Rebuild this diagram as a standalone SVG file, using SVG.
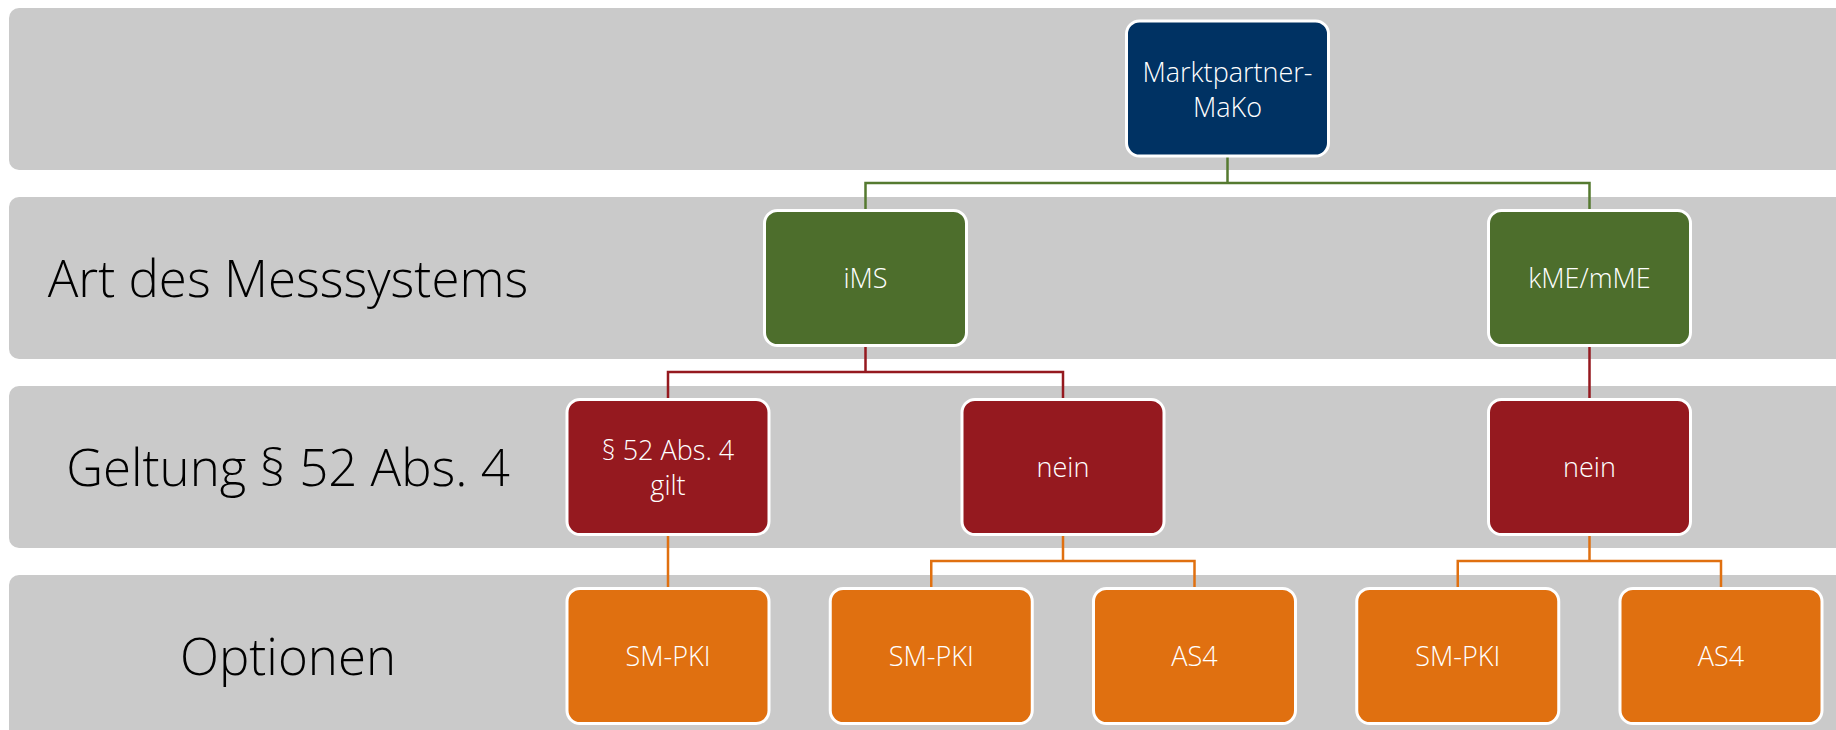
<svg xmlns="http://www.w3.org/2000/svg" width="1836" height="730" viewBox="0 0 1836 730">
<style>
.band{fill:#CACACA}
.lbl{font-family:"Open Sans","Liberation Sans",sans-serif;font-weight:300;font-size:51px;fill:#000;text-anchor:middle}
.node rect{stroke:#FFFFFF;stroke-width:3}
.node text{font-family:"Open Sans","Liberation Sans",sans-serif;font-weight:300;font-size:27px;fill:#FFFFFF;text-anchor:middle}
.navy{fill:#003263}
.green{fill:#4D6E2C}
.red{fill:#95191F}
.orange{fill:#E07010}
.c{fill:none;stroke-width:2.5}
.cg{stroke:#557A30}
.cr{stroke:#95191F}
.co{stroke:#E07010}
</style>
<g id="bands">
<rect class="band" x="9" y="8" width="1860" height="162" rx="10"/>
<rect class="band" x="9" y="197" width="1860" height="162" rx="10"/>
<rect class="band" x="9" y="386" width="1860" height="162" rx="10"/>
<rect class="band" x="9" y="575" width="1860" height="170" rx="10"/>
<text class="lbl" x="288" y="297">Art des Messsystems</text>
<text class="lbl" x="288" y="486">Geltung § 52 Abs. 4</text>
<text class="lbl" x="288" y="675">Optionen</text>
</g>
<g id="connectors">
<path class="c cg" d="M1227.5 156V183M865.5 210V183H1589.5V210"/>
<path class="c cr" d="M865.5 346V372M668 399V372H1063V399M1589.5 346V399"/>
<path class="c co" d="M668 535V588M1063 535V561M931.25 588V561H1194.5V588M1589.5 535V561M1457.75 588V561H1721V588"/>
</g>
<g id="n-markt" class="node"><rect class="navy" x="1126.5" y="21" width="202" height="135" rx="13"/><text x="1227.5" y="82">Marktpartner-</text><text x="1227.5" y="117">MaKo</text></g>
<g id="n-ims" class="node"><rect class="green" x="764.5" y="210.5" width="202" height="135" rx="13"/><text x="865.5" y="288">iMS</text></g>
<g id="n-kme" class="node"><rect class="green" x="1488.5" y="210.5" width="202" height="135" rx="13"/><text x="1589.5" y="288">kME/mME</text></g>
<g id="n-p52" class="node"><rect class="red" x="567" y="399.5" width="202" height="135" rx="13"/><text x="668" y="460">§ 52 Abs. 4</text><text x="668" y="495">gilt</text></g>
<g id="n-nein1" class="node"><rect class="red" x="962" y="399.5" width="202" height="135" rx="13"/><text x="1063" y="477">nein</text></g>
<g id="n-nein2" class="node"><rect class="red" x="1488.5" y="399.5" width="202" height="135" rx="13"/><text x="1589.5" y="477">nein</text></g>
<g id="n-smpki1" class="node"><rect class="orange" x="567" y="588.5" width="202" height="135" rx="13"/><text x="668" y="666">SM-PKI</text></g>
<g id="n-smpki2" class="node"><rect class="orange" x="830.25" y="588.5" width="202" height="135" rx="13"/><text x="931.25" y="666">SM-PKI</text></g>
<g id="n-as4-1" class="node"><rect class="orange" x="1093.5" y="588.5" width="202" height="135" rx="13"/><text x="1194.5" y="666">AS4</text></g>
<g id="n-smpki3" class="node"><rect class="orange" x="1356.75" y="588.5" width="202" height="135" rx="13"/><text x="1457.75" y="666">SM-PKI</text></g>
<g id="n-as4-2" class="node"><rect class="orange" x="1620" y="588.5" width="202" height="135" rx="13"/><text x="1721" y="666">AS4</text></g>
</svg>
